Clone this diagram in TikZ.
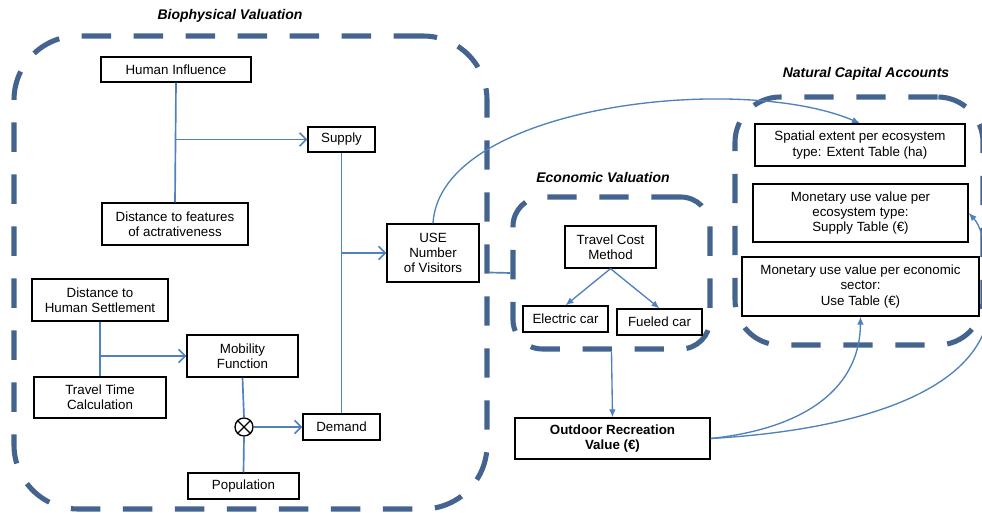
\documentclass[tikz,border=0pt]{standalone}
\usepackage{fontspec}
\setmainfont{Liberation Sans}
\usetikzlibrary{arrows.meta}
\definecolor{cblue}{HTML}{44648F}
\definecolor{lblue}{HTML}{4F81BD}
\tikzset{
  box/.style={draw=black, line width=1pt, fill=white, align=center, inner sep=0pt,
    font=\fontsize{10}{11.5}\selectfont},
  cont/.style={draw=cblue, line width=3.8pt, dash pattern=on 22pt off 17pt},
  ttl/.style={font=\fontsize{10.5}{12}\selectfont\bfseries\itshape},
  conn/.style={draw=lblue, line width=1.25pt},
  oarr/.style={conn, -{Straight Barb[length=5pt,width=10pt,line width=1.2pt]}},
  farr/.style={conn, line width=1pt, -{Latex[length=6pt,width=5pt]}},
}
\begin{document}
\begin{tikzpicture}[x=0.75pt,y=-0.75pt]
\clip (0,0) rectangle (982,513);
\fill[white] (0,0) rectangle (982,513);

% containers
\node[cont, rounded corners=48pt, minimum width=354.75pt, minimum height=354.75pt] (bio) at (250.5,272.5) {};
\node[cont, rounded corners=22pt, minimum width=147.75pt, minimum height=114pt] (eco) at (611.5,273) {};
\node[cont, rounded corners=34pt, minimum width=186pt, minimum height=186pt] (nca) at (859,221) {};

\node[ttl] (tbio) at (230,16) {Biophysical Valuation};
\node[ttl] (teco) at (603,177) {Economic Valuation};
\node[ttl] (tnca) at (866,74) {Natural Capital Accounts};

% biophysical boxes
\node[box, minimum width=112.5pt, minimum height=18.75pt] (hi) at (176,69.5) {Human Influence};
\node[box, minimum width=50.25pt, minimum height=18.75pt] (sup) at (341.5,139.5) {Supply};
\node[box, minimum width=109.5pt, minimum height=31.5pt] (dfa) at (175,224) {Distance to features\\of actrativeness};
\node[box, minimum width=69pt, minimum height=43.5pt] (use) at (433,253) {USE\\Number\\of Visitors};
\node[box, minimum width=102pt, minimum height=31.5pt] (dhs) at (100,300) {Distance to\\Human Settlement};
\node[box, minimum width=83.25pt, minimum height=31.5pt] (mob) at (242.5,356) {Mobility\\Function};
\node[box, minimum width=99pt, minimum height=30.75pt] (ttc) at (100,397.5) {Travel Time\\Calculation};
\node[box, minimum width=57.75pt, minimum height=19.5pt] (dem) at (341.5,427) {Demand};
\node[box, minimum width=83.25pt, minimum height=19.5pt] (pop) at (243.5,486) {Population};
\node[draw=black, line width=1pt, circle, minimum size=13.5pt, inner sep=0pt, fill=white] (ot) at (244,427) {};
\draw[line width=1pt] (ot.north west) -- (ot.south east) (ot.north east) -- (ot.south west);

% economic boxes
\node[box, minimum width=68.25pt, minimum height=31.5pt] (tcm) at (610.5,247) {Travel Cost\\Method};
\node[box, minimum width=63.75pt, minimum height=19.5pt] (ec) at (565.5,319) {Electric car};
\node[box, minimum width=63.75pt, minimum height=19.5pt] (fc) at (659.5,322) {Fueled car};
\node[box, minimum width=146.25pt, minimum height=30.75pt, font=\fontsize{10}{11.5}\selectfont\bfseries] (orv) at (612.5,438.5) {Outdoor Recreation\\Value (€)};

% natural capital boxes
\node[box, minimum width=157.5pt, minimum height=31.5pt] (spx) at (860,145) {Spatial extent per ecosystem\\type: Extent Table (ha)};
\node[box, minimum width=161.25pt, minimum height=43.5pt] (stb) at (860.5,213) {Monetary use value per\\ecosystem type:\\Supply Table (€)};
\node[box, minimum width=177.75pt, minimum height=44.25pt] (utb) at (860.5,286.5) {Monetary use value per economic\\sector:\\Use Table (€)};

% biophysical connectors
\draw[conn] (hi.south) -- (dfa.north);
\draw[oarr] (hi.south |- sup.west) -- (sup.west);
\draw[conn] (sup.south) -- (dem.north);
\draw[oarr] (sup.south |- use.west) -- (use.west);
\draw[conn] (dhs.south) -- (ttc.north);
\draw[oarr] (dhs.south |- mob.west) -- (mob.west);
\draw[conn] (mob.south) -- (ot.north);
\draw[conn] (pop.north) -- (ot.south);
\draw[oarr] (ot.east) -- (dem.west);

% cross connectors
\draw[conn] (bio.east) -- (eco.west);
\draw[farr] (use.north) .. controls (440,105) and (740,72) .. (spx.north);
\draw[farr] (tcm.south) -- (ec.north);
\draw[farr] (tcm.south) -- (fc.north);
\draw[farr] (eco.south) -- (orv.north);
\draw[farr] (orv.east) .. controls (810,428) and (860,385) .. (utb.south);
\draw[farr] (orv.east) .. controls (860,430) and (990,390) .. (990,300) .. controls (990,250) and (980,225) .. (stb.east);
\end{tikzpicture}
\end{document}
